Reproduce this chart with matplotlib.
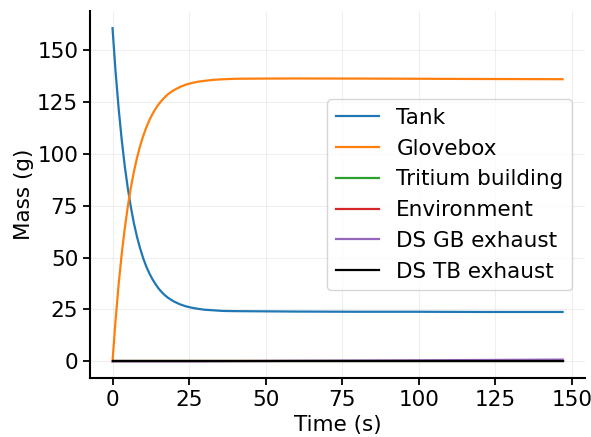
import numpy as np
import matplotlib
matplotlib.use("Agg")
import matplotlib.pyplot as plt

# values (time in s, mass in g)
t = [0, 1, 2, 3, 4, 5, 6, 7, 8, 9, 10, 11, 12, 13, 14, 15, 16, 17, 18, 19, 20,
     22, 24, 26, 28, 30, 33, 36, 40, 50, 60, 80, 100, 120, 147]
tank = [160.6, 139.6, 121.9, 106.9, 94.1, 83.4, 74.3, 66.5, 60.0, 54.5, 49.8,
        45.8, 42.5, 39.7, 37.3, 35.2, 33.5, 32.0, 30.8, 29.8, 28.9,
        27.5, 26.5, 25.8, 25.3, 24.9, 24.6, 24.3, 24.2, 24.1, 24.0, 23.9, 23.9, 23.8, 23.8]
glovebox = [0.0, 20.0, 37.1, 51.7, 64.1, 74.7, 83.8, 91.5, 98.1, 103.7, 108.5,
            112.6, 116.1, 119.1, 121.6, 123.8, 125.6, 127.2, 128.6, 129.7, 130.7,
            132.2, 133.4, 134.2, 134.8, 135.2, 135.7, 135.95, 136.2, 136.3, 136.35, 136.3, 136.2, 136.1, 136.0]
tritium_building = [0.0] * len(t)
environment = [0.0] * len(t)
ds_gb_exhaust = [0.0] * 25 + [0.0, 0.03, 0.06, 0.1, 0.16, 0.24, 0.36, 0.5, 0.65, 0.85]
ds_tb_exhaust = [0.0] * len(t)

fig = plt.figure(figsize=(5.91, 4.37), dpi=100)
ax = fig.add_axes([0.1523, 0.135, 0.8377, 0.8387])

lw = 1.6
ax.plot(t, tank, label="Tank", lw=lw)
ax.plot(t, glovebox, label="Glovebox", lw=lw)
ax.plot(t, tritium_building, label="Tritium building", lw=lw)
ax.plot(t, environment, label="Environment", lw=lw)
ax.plot(t, ds_gb_exhaust, label="DS GB exhaust", lw=lw)
ax.plot(t, ds_tb_exhaust, label="DS TB exhaust", lw=lw, color="black")

fs = 15.5
ax.set_xlabel("Time (s)", fontsize=fs, labelpad=4)
ax.set_ylabel("Mass (g)", fontsize=fs, labelpad=2)
ax.tick_params(labelsize=fs, width=1.3, length=5)
ax.set_xticks([0, 25, 50, 75, 100, 125, 150])
ax.set_yticks([0, 25, 50, 75, 100, 125, 150])
ax.grid(alpha=0.2)
for s in ["top", "right"]:
    ax.spines[s].set_visible(False)
for s in ["left", "bottom"]:
    ax.spines[s].set_linewidth(1.5)
ax.legend(loc="center right", fontsize=fs, borderaxespad=0.6)

fig.savefig("out.png")
